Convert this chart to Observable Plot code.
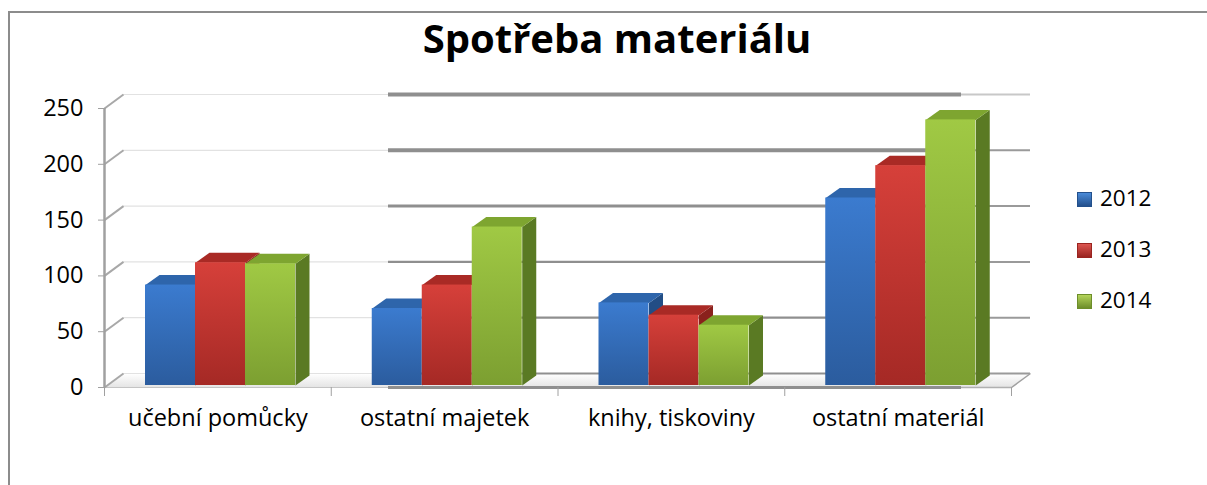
<!DOCTYPE html>
<html><head><meta charset="utf-8">
<script src="https://cdn.jsdelivr.net/npm/d3@7"></script>
<script src="https://cdn.jsdelivr.net/npm/@observablehq/plot@0.6"></script>
<style>
html,body{margin:0;background:#fff;font-family:"Open Sans",sans-serif;overflow:hidden;}
#wrap{position:relative;width:1207px;height:485px;overflow:hidden;background:#fff;}
#bleft{position:absolute;left:8px;top:11px;width:2px;height:500px;background:#8c8c8c;}
#btop{position:absolute;left:8px;top:11px;width:1300px;height:2px;background:#8c8c8c;}
#chart{position:absolute;left:0;top:0;}
#title{position:absolute;left:0;width:1234px;top:18px;text-align:center;font-weight:700;font-size:40px;line-height:1;color:#000;}
#legend{position:absolute;left:1077px;top:0;}
.item{position:absolute;left:0;white-space:nowrap;font-size:22.5px;line-height:1;color:#000;}
.sw{display:inline-block;width:15px;height:15px;vertical-align:middle;margin-right:8px;box-sizing:border-box;}
</style></head>
<body>
<div id="wrap">
  <div id="bleft"></div>
  <div id="btop"></div>
  <div id="chart"></div>
  <div id="title">Spotřeba materiálu</div>
  <div id="legend"></div>
</div>
<script>
// ---- data ----
const categories = ["učební pomůcky", "ostatní majetek", "knihy, tiskoviny", "ostatní materiál"];
const years = ["2012", "2013", "2014"];
const v2012 = [90, 69, 74, 168];
const v2013 = [110, 90, 63, 197];
const v2014 = [109, 142, 54, 238];
const yTicks = [0, 50, 100, 150, 200, 250];

// ---- styling / geometry constants (not data) ----
const series = [v2012, v2013, v2014];
const front = ["url(#f0)", "url(#f1)", "url(#f2)"];
const side = ["#224d85", "#8a211c", "#5a7a23"];
const topc = ["#2e65ab", "#a92a25", "#7ea530"];
const pxX = 226.75, pxY = 1.116;
const barW = 50 / pxX, barOff = 41 / pxX, bdx = 14 / pxX, bdy = 10 / pxY, base = 2 / pxY;
const wdx = 19 / pxX, wdy = 14 / pxY;
const xA = (388 - 104) / pxX, xB = (961 - 104) / pxX;

// build bar geometry tables from the data
function barRows(j) {
  return categories.map((c, i) => {
    const x1 = i + barOff + j * barW;
    return {cat: c, year: years[j], v: series[j][i], x1, x2: x1 + barW, y0: base, y1: base + series[j][i]};
  });
}
function sidePoly(j) {
  return barRows(j).flatMap(r => [
    {x: r.x2, y: r.y0, k: r.cat}, {x: r.x2, y: r.y1, k: r.cat},
    {x: r.x2 + bdx, y: r.y1 + bdy, k: r.cat}, {x: r.x2 + bdx, y: r.y0 + bdy, k: r.cat}
  ]);
}
function topPoly(j) {
  return barRows(j).flatMap(r => [
    {x: r.x1, y: r.y1, k: r.cat}, {x: r.x2, y: r.y1, k: r.cat},
    {x: r.x2 + bdx, y: r.y1 + bdy, k: r.cat}, {x: r.x1 + bdx, y: r.y1 + bdy, k: r.cat}
  ]);
}
const n = categories.length;
const floor = [{x: 0, y: 0}, {x: n, y: 0}, {x: n + wdx, y: wdy}, {x: wdx, y: wdy}];
const gridStyle = v => v >= 200 ? 4 : v === 150 ? 3 : 2.2;

const marks = [
  // floor
  Plot.line(floor, {x: "x", y: "y", fill: "url(#floorg)", stroke: "none"}),
  // back-wall gridlines: light / dark / medium segments
  Plot.ruleY(yTicks, {y: d => d + wdy, x1: wdx, x2: xA, stroke: "#e2e2e2", strokeWidth: 1.2}),
  Plot.ruleY(yTicks, {y: d => d + wdy, x1: xA, x2: xB, stroke: "#8f8f8f", strokeWidth: d => gridStyle(d)}),
  Plot.ruleY(yTicks, {y: d => d + wdy, x1: xB, x2: n + wdx, stroke: d => d === 250 ? "#c8c8c8" : "#9a9a9a", strokeWidth: 2}),
  // floor front edge
  Plot.ruleY([0], {x1: 0, x2: xA, stroke: "#c4c4c4", strokeWidth: 1.2}),
  Plot.ruleY([0], {x1: xA, x2: xB, stroke: "#8f8f8f", strokeWidth: 3}),
  Plot.ruleY([0], {x1: xB, x2: n, stroke: "#b0b0b0", strokeWidth: 1.5}),
  Plot.link([0], {x1: n, y1: 0, x2: n + wdx, y2: wdy, stroke: "#a0a0a0", strokeWidth: 1.5}),
  // left wall diagonal ticks
  Plot.link(yTicks, {x1: 0, y1: d => d, x2: wdx, y2: d => d + wdy, stroke: "#a8a8a8", strokeWidth: 2}),
  // y axis line
  Plot.ruleX([0], {y1: 0, y2: 250, stroke: "#a0a0a0", strokeWidth: 2.5}),
];
years.forEach((y, j) => {
  marks.push(
    Plot.line(sidePoly(j), {x: "x", y: "y", z: "k", fill: side[j], stroke: "none"}),
    Plot.line(topPoly(j), {x: "x", y: "y", z: "k", fill: topc[j], stroke: "none"}),
    Plot.rect(barRows(j), {x1: "x1", x2: "x2", y1: "y0", y2: "y1", fill: front[j], inset: 0})
  );
});
marks.push(
  Plot.axisY(yTicks, {tickSize: 6, tickPadding: 15, stroke: "#a0a0a0", fill: "#000", fontSize: 23.5}),
  Plot.axisX(d3.range(n + 1), {tickSize: 9, tickFormat: () => "", stroke: "#a0a0a0"}),
  Plot.axisX(categories.map((c, i) => i + 0.5), {tickSize: 0, tickPadding: 22, tickFormat: d => categories[Math.floor(d)], fill: "#000", fontSize: 23.5})
);

const svg = Plot.plot({
  width: 1207, height: 485,
  marginLeft: 104, marginRight: 196, marginTop: 108, marginBottom: 98,
  x: {type: "linear", domain: [0, n]},
  y: {type: "linear", domain: [0, 250]},
  style: {fontFamily: "'Open Sans', sans-serif", fontSize: "23px", color: "#000", background: "transparent", overflow: "visible"},
  marks
});

// gradients
const defs = d3.select(svg).insert("defs", ":first-child");
const grads = [["f0", "#3b7bcf", "#2b5c9e"], ["f1", "#d6403a", "#a52925"], ["f2", "#a0c944", "#7c9f31"], ["floorg", "#ffffff", "#e4e4e4"]];
grads.forEach(([id, a, b]) => {
  const g = defs.append("linearGradient").attr("id", id).attr("x1", 0).attr("y1", 0).attr("x2", 0).attr("y2", 1);
  g.append("stop").attr("offset", "0%").attr("stop-color", a);
  g.append("stop").attr("offset", "100%").attr("stop-color", b);
});
document.getElementById("chart").appendChild(svg);

// legend
const legColors = [["#4a8ad8", "#23508c"], ["#dc5550", "#9a2420"], ["#b4d45a", "#6d8e2a"]];
const legY = [200, 251, 302];
const leg = document.getElementById("legend");
years.forEach((y, j) => {
  const it = document.createElement("div");
  it.className = "item";
  it.style.top = (legY[j] - 13) + "px";
  const sw = document.createElement("span");
  sw.className = "sw";
  sw.style.background = `linear-gradient(${legColors[j][0]}, ${legColors[j][1]})`;
  sw.style.border = `1px solid ${legColors[j][1]}`;
  it.appendChild(sw);
  it.appendChild(document.createTextNode(y));
  leg.appendChild(it);
});
</script>
</body></html>
